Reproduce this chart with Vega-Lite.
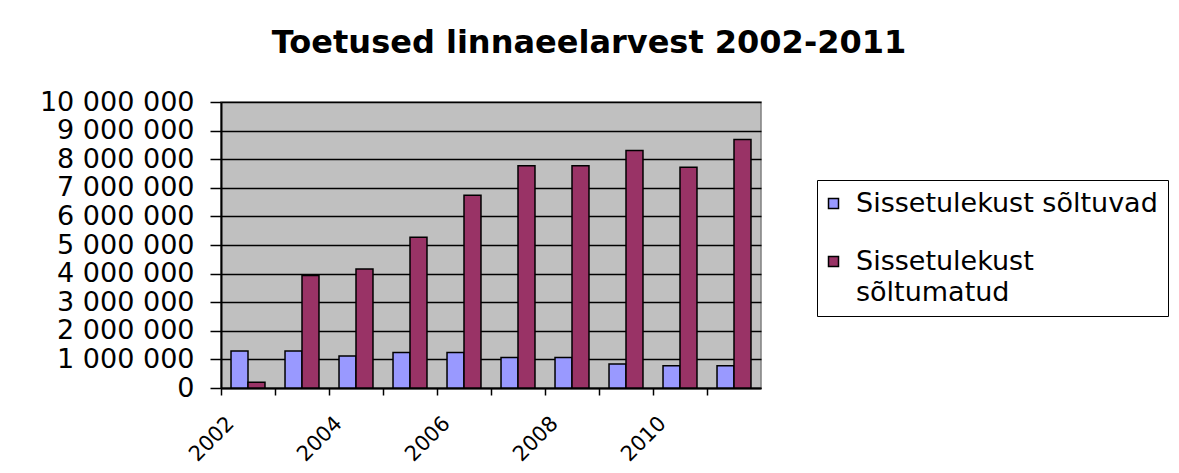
{
  "$schema": "https://vega.github.io/schema/vega-lite/v6.json",
  "width": 540,
  "height": 286,
  "autosize": "none",
  "padding": {"left": 221, "top": 102, "right": 418, "bottom": 85},
  "background": "white",
  "title": {
    "text": "Toetused linnaeelarvest 2002-2011",
    "font": "DejaVu Sans",
    "fontSize": 32,
    "fontWeight": "bold",
    "color": "black",
    "anchor": "middle",
    "frame": "group",
    "dx": 98,
    "baseline": "alphabetic",
    "offset": 3
  },
  "config": {
    "font": "DejaVu Sans",
    "locale": {"number": {"decimal": ",", "thousands": " ", "grouping": [3], "currency": ["", ""]}},
    "view": {"fill": "#C0C0C0", "stroke": "#808080", "strokeWidth": 1.5}
  },
  "data": {
    "values": [
      {"year": "2002", "series": "Sissetulekust sõltuvad", "value": 1290000},
      {"year": "2002", "series": "Sissetulekust sõltumatud", "value": 200000},
      {"year": "2003", "series": "Sissetulekust sõltuvad", "value": 1290000},
      {"year": "2003", "series": "Sissetulekust sõltumatud", "value": 3930000},
      {"year": "2004", "series": "Sissetulekust sõltuvad", "value": 1120000},
      {"year": "2004", "series": "Sissetulekust sõltumatud", "value": 4160000},
      {"year": "2005", "series": "Sissetulekust sõltuvad", "value": 1240000},
      {"year": "2005", "series": "Sissetulekust sõltumatud", "value": 5270000},
      {"year": "2006", "series": "Sissetulekust sõltuvad", "value": 1240000},
      {"year": "2006", "series": "Sissetulekust sõltumatud", "value": 6740000},
      {"year": "2007", "series": "Sissetulekust sõltuvad", "value": 1070000},
      {"year": "2007", "series": "Sissetulekust sõltumatud", "value": 7770000},
      {"year": "2008", "series": "Sissetulekust sõltuvad", "value": 1070000},
      {"year": "2008", "series": "Sissetulekust sõltumatud", "value": 7770000},
      {"year": "2009", "series": "Sissetulekust sõltuvad", "value": 840000},
      {"year": "2009", "series": "Sissetulekust sõltumatud", "value": 8300000},
      {"year": "2010", "series": "Sissetulekust sõltuvad", "value": 780000},
      {"year": "2010", "series": "Sissetulekust sõltumatud", "value": 7720000},
      {"year": "2011", "series": "Sissetulekust sõltuvad", "value": 780000},
      {"year": "2011", "series": "Sissetulekust sõltumatud", "value": 8690000}
    ]
  },
  "mark": {"type": "bar", "stroke": "black", "strokeWidth": 1.5},
  "encoding": {
    "x": {
      "field": "year",
      "type": "ordinal",
      "scale": {"paddingInner": 0, "paddingOuter": 0},
      "axis": {
        "title": null,
        "bandPosition": 0,
        "domainColor": "black",
        "domainWidth": 2,
        "tickColor": "black",
        "tickWidth": 1.5,
        "tickSize": 7,
        "labelAngle": -45,
        "labelAlign": "right",
        "labelBaseline": "middle",
        "labelOffset": -17,
        "labelPadding": 25,
        "labelFont": "DejaVu Sans",
        "labelFontSize": 21,
        "labelColor": "black",
        "labelExpr": "toNumber(datum.value) % 2 == 0 ? datum.value : ''"
      }
    },
    "xOffset": {
      "field": "series",
      "sort": ["Sissetulekust sõltuvad", "Sissetulekust sõltumatud"],
      "scale": {"paddingInner": 0, "paddingOuter": 0.59}
    },
    "y": {
      "field": "value",
      "type": "quantitative",
      "scale": {"domain": [0, 10000000], "nice": false},
      "axis": {
        "title": null,
        "values": [0, 1000000, 2000000, 3000000, 4000000, 5000000, 6000000, 7000000, 8000000, 9000000, 10000000],
        "format": ",d",
        "domainColor": "black",
        "domainWidth": 2,
        "tickColor": "black",
        "tickWidth": 1.5,
        "tickSize": 11,
        "labelPadding": 16,
        "labelFont": "DejaVu Sans",
        "labelFontSize": 27,
        "labelColor": "black",
        "grid": true,
        "gridColor": "black",
        "gridWidth": 1.5,
        "gridOpacity": 1
      }
    },
    "color": {
      "field": "series",
      "type": "nominal",
      "scale": {
        "domain": ["Sissetulekust sõltuvad", "Sissetulekust sõltumatud"],
        "range": ["#9999FF", "#993366"]
      },
      "legend": {
        "title": null,
        "orient": "none",
        "legendX": 596,
        "legendY": 78,
        "padding": 10,
        "strokeColor": "black",
        "fillColor": "white",
        "symbolType": "square",
        "symbolSize": 100,
        "symbolOffset": -7,
        "symbolStrokeColor": "black",
        "symbolStrokeWidth": 1.5,
        "symbolOpacity": 1,
        "labelFont": "DejaVu Sans",
        "labelFontSize": 27,
        "labelColor": "black",
        "labelLimit": 500,
        "labelOffset": 9,
        "rowPadding": 30,
        "labelExpr": "datum.label == 'Sissetulekust sõltumatud' ? ['Sissetulekust', 'sõltumatud'] : datum.label",
        "encode": {"labels": {"update": {"lineHeight": {"value": 31}}}}
      }
    }
  }
}
